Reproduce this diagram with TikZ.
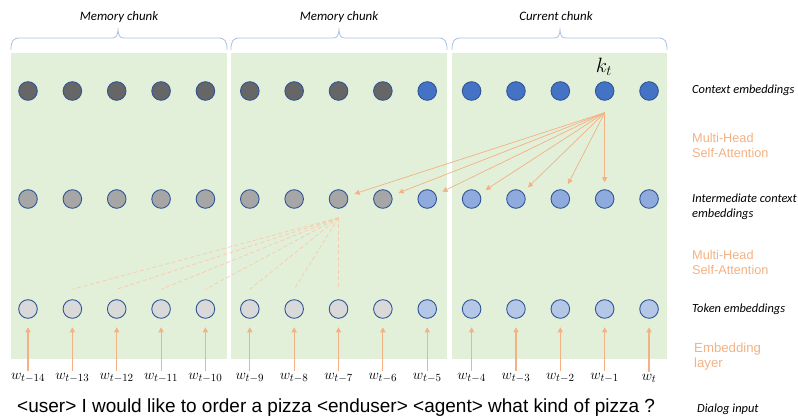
\documentclass[tikz,border=0pt]{standalone}
\usepackage{fontspec}
\setmainfont{Liberation Sans}
\newfontfamily\carl{Carlito}
\usetikzlibrary{arrows.meta}
\definecolor{bggreen}{HTML}{E2F0D9}
\definecolor{edgeblue}{HTML}{2F5597}
\definecolor{darkgray1}{HTML}{666666}
\definecolor{midgray1}{HTML}{A6A6A6}
\definecolor{lightgray1}{HTML}{D9D9D9}
\definecolor{blue1}{HTML}{4472C4}
\definecolor{blue2}{HTML}{8FAADC}
\definecolor{blue3}{HTML}{B4C7E7}
\definecolor{orng}{HTML}{F4B183}
\definecolor{orngl}{HTML}{F8CBAD}
\definecolor{bracec}{HTML}{A9BFE6}
\newcommand{\chunkbrace}[3]{%
  \draw[bracec, line width=0.8pt] (#1,50) .. controls (#1,41) and (#1+2,38) .. (#1+9,38)
    -- (#2-6,38) .. controls (#2-2,38) and (#2,36) .. (#2,28)
    .. controls (#2,36) and (#2+2,38) .. (#2+6,38)
    -- (#3-9,38) .. controls (#3-2,38) and (#3,41) .. (#3,50);}
\begin{document}
\begin{tikzpicture}[x=1pt,y=-1pt,
  emb/.style={circle, draw=edgeblue, line width=0.9pt, minimum size=18.6pt, inner sep=0pt},
  sidelabel/.style={anchor=west, font=\carl\itshape\fontsize{12.4}{15}\selectfont, align=left, inner sep=0pt},
  orglabel/.style={anchor=west, font=\fontsize{12.7}{15}\selectfont, text=orng, align=left, inner sep=0pt},
  chunklabel/.style={font=\carl\itshape\fontsize{12.9}{15}\selectfont, inner sep=0pt},
  wlabel/.style={font=\fontsize{15}{17}\selectfont, inner sep=1pt},
  embarrow/.style={orng, line width=1.1pt, -{Triangle[width=5pt,length=5pt]}},
  attarrow/.style={orng, line width=0.7pt, -{Triangle[width=5pt,length=5pt]}},
  dashline/.style={orngl, line width=0.7pt, dash pattern=on 4pt off 2.5pt}]
\useasboundingbox (0,0) rectangle (798,417);
% chunk backgrounds
\fill[bggreen] (11,53) rectangle (227,359);
\fill[bggreen] (231,53) rectangle (447,359);
\fill[bggreen] (452,53) rectangle (667,359);
% braces
\chunkbrace{11}{118}{227}
\chunkbrace{231}{339}{447}
\chunkbrace{452}{560}{667}
\node[chunklabel] (lab1) at (119,17) {Memory chunk};
\node[chunklabel] (lab2) at (339,17) {Memory chunk};
\node[chunklabel] (lab3) at (556,16) {Current chunk};
% circles
\foreach \i in {0,...,8}{
  \node[emb, fill=darkgray1] (c1-\i) at ({28+44.36*\i},91) {};
  \node[emb, fill=midgray1] (c2-\i) at ({28+44.36*\i},199) {};
  \node[emb, fill=lightgray1] (c3-\i) at ({28+44.36*\i},309) {};
}
\foreach \i in {9,...,14}{
  \node[emb, fill=blue1] (c1-\i) at ({28+44.36*\i},91) {};
  \node[emb, fill=blue2] (c2-\i) at ({28+44.36*\i},199) {};
  \node[emb, fill=blue3] (c3-\i) at ({28+44.36*\i},309) {};
}
\node[font=\fontsize{22}{24}\selectfont, inner sep=0pt] (kt) at (604,67) {$k_t$};
% word labels
\foreach \i/\lab in {0/t-14,1/t-13,2/t-12,3/t-11,4/t-10,5/t-9,6/t-8,7/t-7,8/t-6,9/t-5,10/t-4,11/t-3,12/t-2,13/t-1,14/t}{
  \node[wlabel] (w-\i) at ({28+44.36*\i},378) {$w_{\lab}$};
  \draw[embarrow, shorten <=1pt, shorten >=8.5pt] (w-\i.north) -- (c3-\i.south);
}
% attention arrows (top)
\coordinate (att) at ([yshift=-12pt]c1-13.south);
\foreach \j in {7,...,13}{
  \draw[attarrow, shorten >=7pt] (att) -- (c2-\j);
}
% dashed attention lines (bottom)
\coordinate (dsrc) at ([yshift=-9pt]c2-7.south);
\foreach \j in {1,...,7}{
  \coordinate (dend-\j) at ([yshift=10pt]c3-\j.north);
  \draw[dashline] (dsrc) -- (dend-\j);
}
% right-hand labels
\node[sidelabel] (l-ctx) at (692,90) {Context embeddings};
\node[orglabel] (l-mh1) at (692,145) {Multi-Head\\Self-Attention};
\node[sidelabel] (l-int) at (692,207) {Intermediate context\\embeddings};
\node[orglabel] (l-mh2) at (692,262) {Multi-Head\\Self-Attention};
\node[sidelabel] (l-tok) at (692,309) {Token embeddings};
\node[orglabel, font=\fontsize{13.2}{15}\selectfont] (l-emb) at (694,357) {Embedding\\layer};
\node[sidelabel] (l-dia) at (697,409) {Dialog input};
% dialog text
\node[anchor=west, inner sep=0pt, font=\fontsize{19}{22}\selectfont] (dialog) at (17,408) {<user> I would like to order a pizza <enduser> <agent> what kind of pizza ?};
\end{tikzpicture}
\end{document}
